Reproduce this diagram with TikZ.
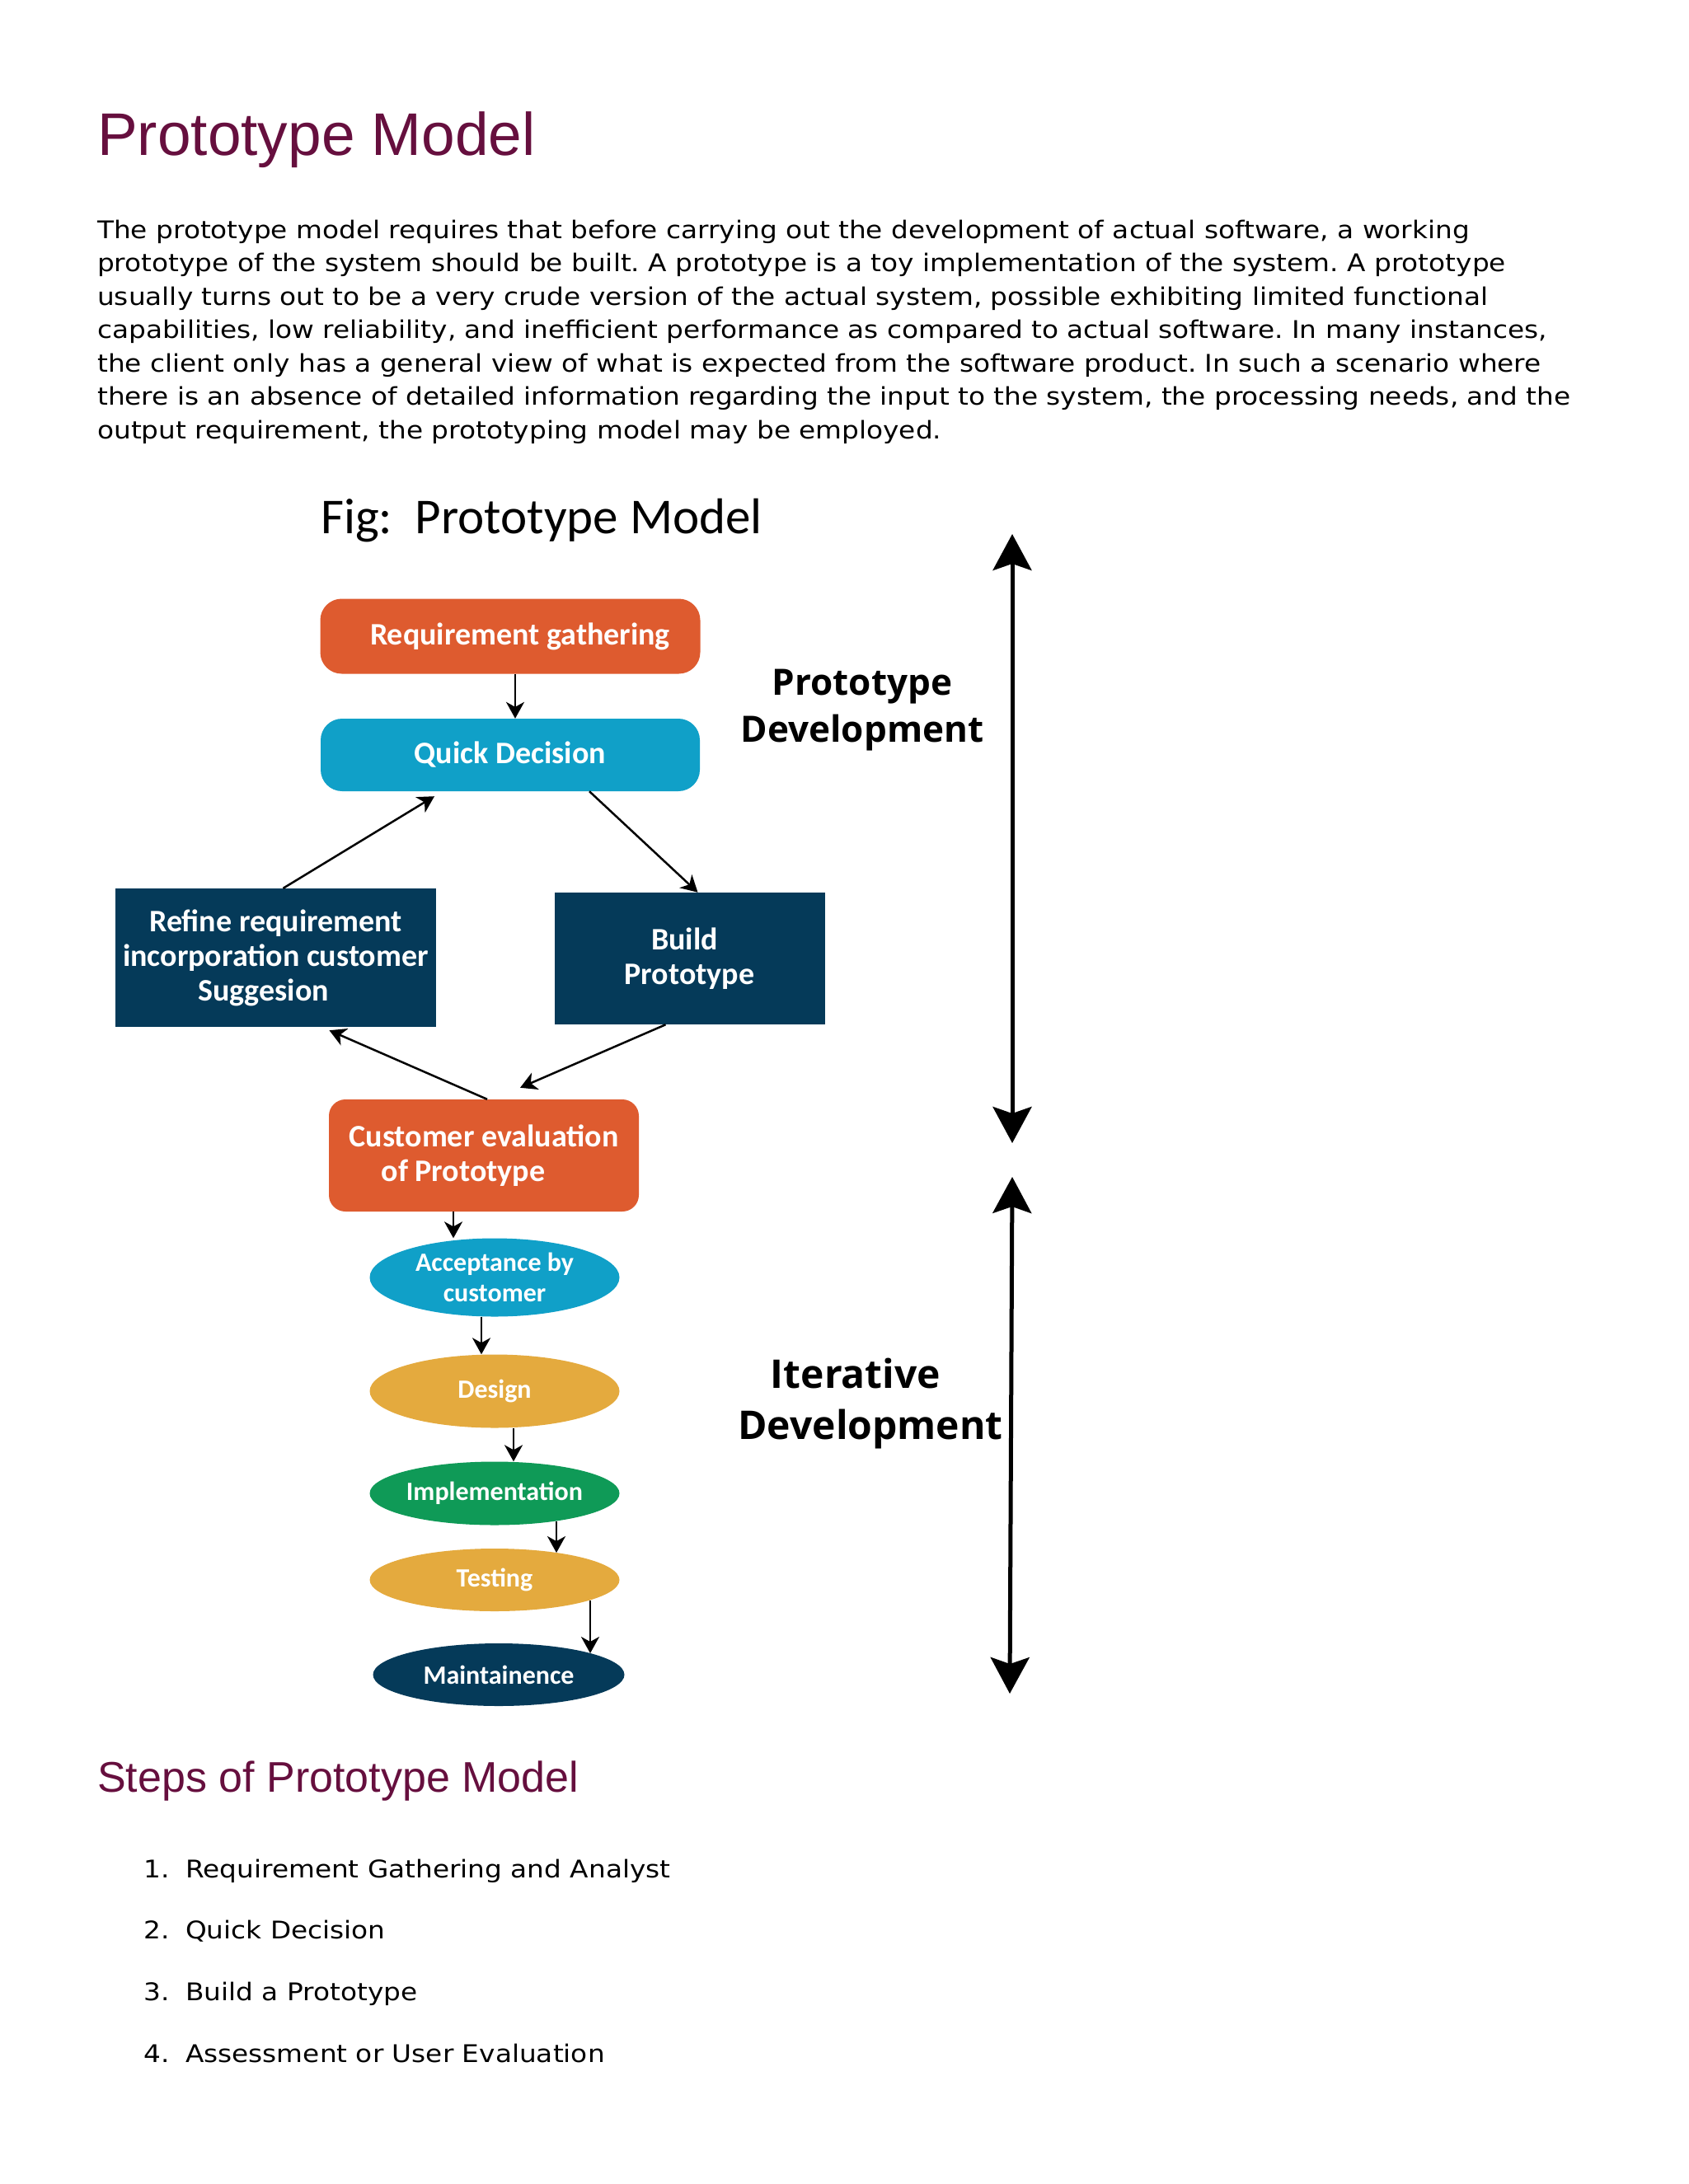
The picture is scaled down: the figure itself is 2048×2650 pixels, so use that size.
\documentclass[tikz,border=0pt]{standalone}
\usepackage{fontspec}
\setmainfont{DejaVu Sans}
\newfontfamily\bodyfont[FakeStretch=1.11]{DejaVu Sans}
\newfontfamily\headfont{Liberation Sans}
\newfontfamily\figfont{Carlito}
\newfontfamily\sidefont{Open Sans}
\usetikzlibrary{shapes.geometric,arrows.meta}
\definecolor{headmaroon}{HTML}{660F3E}
\definecolor{orangefill}{HTML}{DE5B2F}
\definecolor{cyanfill}{HTML}{10A0C8}
\definecolor{navyfill}{HTML}{053A59}
\definecolor{goldfill}{HTML}{E4AA3E}
\definecolor{greenfill}{HTML}{0F9A57}
\frenchspacing

\begin{document}
\begin{tikzpicture}[x=1pt,y=-1pt,
    bodytxt/.style={anchor=base west,inner sep=0pt,font=\bodyfont\fontsize{29.5}{35}\selectfont},
    roundbox/.style={rounded corners=26pt,text=white,inner sep=0pt,align=center,
        font=\figfont\bfseries\fontsize{38}{42}\selectfont},
    darkbox/.style={fill=navyfill,text=white,inner sep=0pt,align=center,
        font=\figfont\bfseries\fontsize{38}{42}\selectfont},
    ovalnode/.style={ellipse,text=white,inner sep=0pt,align=center,minimum width=303pt,
        font=\figfont\bfseries\fontsize{32}{37}\selectfont},
    sidetxt/.style={anchor=base,inner sep=0pt,font=\sidefont\bfseries},
    flowarr/.style={line width=2.5pt,-{Stealth[length=20pt,width=22pt,inset=6pt]}},
    spanarr/.style={line width=5pt,{Stealth[length=44pt,width=47pt,inset=8pt]}-{Stealth[length=44pt,width=47pt,inset=8pt]}}]
    \useasboundingbox (0,0) rectangle (2048,2650);

    \node[anchor=base west,inner sep=0pt,text=headmaroon,font=\headfont\fontsize{73}{80}\selectfont] (title) at (118,188) {Prototype Model};

    \node[bodytxt] (line1) at (118,289) {The prototype model requires that before carrying out the development of actual software, a working};
    \node[bodytxt] (line2) at (118,329.5) {prototype of the system should be built. A prototype is a toy implementation of the system. A prototype};
    \node[bodytxt] (line3) at (118,370) {usually turns out to be a very crude version of the actual system, possible exhibiting limited functional};
    \node[bodytxt] (line4) at (118,410.5) {capabilities, low reliability, and inefficient performance as compared to actual software. In many instances,};
    \node[bodytxt] (line5) at (118,451) {the client only has a general view of what is expected from the software product. In such a scenario where};
    \node[bodytxt] (line6) at (118,491.5) {there is an absence of detailed information regarding the input to the system, the processing needs, and the};
    \node[bodytxt] (line7) at (118,532) {output requirement, the prototyping model may be employed.};

    \node[anchor=base west,inner sep=0pt,font=\figfont\fontsize{61}{66}\selectfont] (figtitle) at (389,647) {Fig:\ \ Prototype Model};

    \node[roundbox,fill=orangefill,minimum width=461pt,minimum height=91pt] (reqgather) at (619,772) {\hspace*{24pt}Requirement gathering};
    \node[roundbox,fill=cyanfill,minimum width=460pt,minimum height=88pt] (quickdec) at (619,916) {Quick Decision};
    \node[darkbox,minimum width=389pt,minimum height=168pt] (refine) at (334.5,1162) {Refine requirement\\incorporation customer\\Suggesion\hspace*{30pt}};
    \node[darkbox,minimum width=328pt,minimum height=160pt] (buildproto) at (836.5,1163) {Build\hspace*{12pt}\\Prototype};
    \node[roundbox,rounded corners=20pt,fill=orangefill,minimum width=376pt,minimum height=136pt] (custeval) at (587,1402) {Customer evaluation\\of Prototype\hspace*{50pt}};

    \node[ovalnode,fill=cyanfill,minimum height=95pt] (accept) at (600,1550) {Acceptance by\\customer};
    \node[ovalnode,fill=goldfill,minimum height=89pt] (design) at (600,1688) {Design};
    \node[ovalnode,fill=greenfill,minimum height=77pt] (implement) at (600,1812) {Implementation};
    \node[ovalnode,fill=goldfill,minimum height=76pt] (testing) at (600,1917) {Testing};
    \node[ovalnode,fill=navyfill,minimum width=305pt,minimum height=76pt] (maintain) at (605,2032) {Maintainence};

    \draw[flowarr] ([xshift=6pt]reqgather.south) -- ([xshift=6pt]quickdec.north);
    \draw[flowarr] ([xshift=96pt]quickdec.south) -- ([xshift=10pt]buildproto.north);
    \draw[flowarr] ([xshift=9pt]refine.north) -- ([xshift=-92pt,yshift=-6pt]quickdec.south);
    \draw[flowarr] ([xshift=-29pt]buildproto.south) -- ([xshift=44pt,yshift=14pt]custeval.north);
    \draw[flowarr] ([xshift=4pt]custeval.north) -- ([xshift=65pt,yshift=-4pt]refine.south);
    \draw[flowarr] ([xshift=-37pt]custeval.south) -- ([xshift=-37pt]custeval.south |- accept.north);
    \draw[flowarr] ([xshift=-16pt]accept.south) -- ([xshift=-16pt]accept.south |- design.north);
    \draw[flowarr] ([xshift=23pt]design.south) -- ([xshift=23pt]design.south |- implement.north);
    \draw[flowarr] ([xshift=75pt,yshift=-34pt]implement.center) -- ([xshift=75pt,yshift=33pt]testing.center);
    \draw[flowarr] ([xshift=116pt,yshift=-25pt]testing.center) -- ([xshift=111pt,yshift=26pt]maintain.center);

    \node[sidetxt,font=\sidefont\bfseries\fontsize{44}{50}\selectfont] (protolbl1) at (1046,843) {Prototype};
    \node[sidetxt,font=\sidefont\bfseries\fontsize{44}{50}\selectfont] (protolbl2) at (1046,900) {Development};
    \node[sidetxt,font=\sidefont\bfseries\fontsize{48}{54}\selectfont] (iterlbl1) at (1038,1684) {Iterative};
    \node[sidetxt,font=\sidefont\bfseries\fontsize{48}{54}\selectfont] (iterlbl2) at (1056,1746) {Development};

    \coordinate (prototop) at (1228,648);
    \coordinate (protobot) at (1228,1387);
    \coordinate (itertop) at (1228,1428);
    \coordinate (iterbot) at (1225,2055);
    \draw[spanarr] (prototop) -- (protobot);
    \draw[spanarr] (itertop) -- (iterbot);

    \node[anchor=base west,inner sep=0pt,text=headmaroon,font=\headfont\fontsize{52}{60}\selectfont] (steps) at (118,2174) {Steps of Prototype Model};

    \node[bodytxt] (num1) at (174,2278) {1.};
    \node[bodytxt] (step1) at (225,2278) {Requirement Gathering and Analyst};
    \node[bodytxt] (num2) at (174,2352) {2.};
    \node[bodytxt] (step2) at (225,2352) {Quick Decision};
    \node[bodytxt] (num3) at (174,2427) {3.};
    \node[bodytxt] (step3) at (225,2427) {Build a Prototype};
    \node[bodytxt] (num4) at (174,2502) {4.};
    \node[bodytxt] (step4) at (225,2502) {Assessment or User Evaluation};
\end{tikzpicture}
\end{document}
